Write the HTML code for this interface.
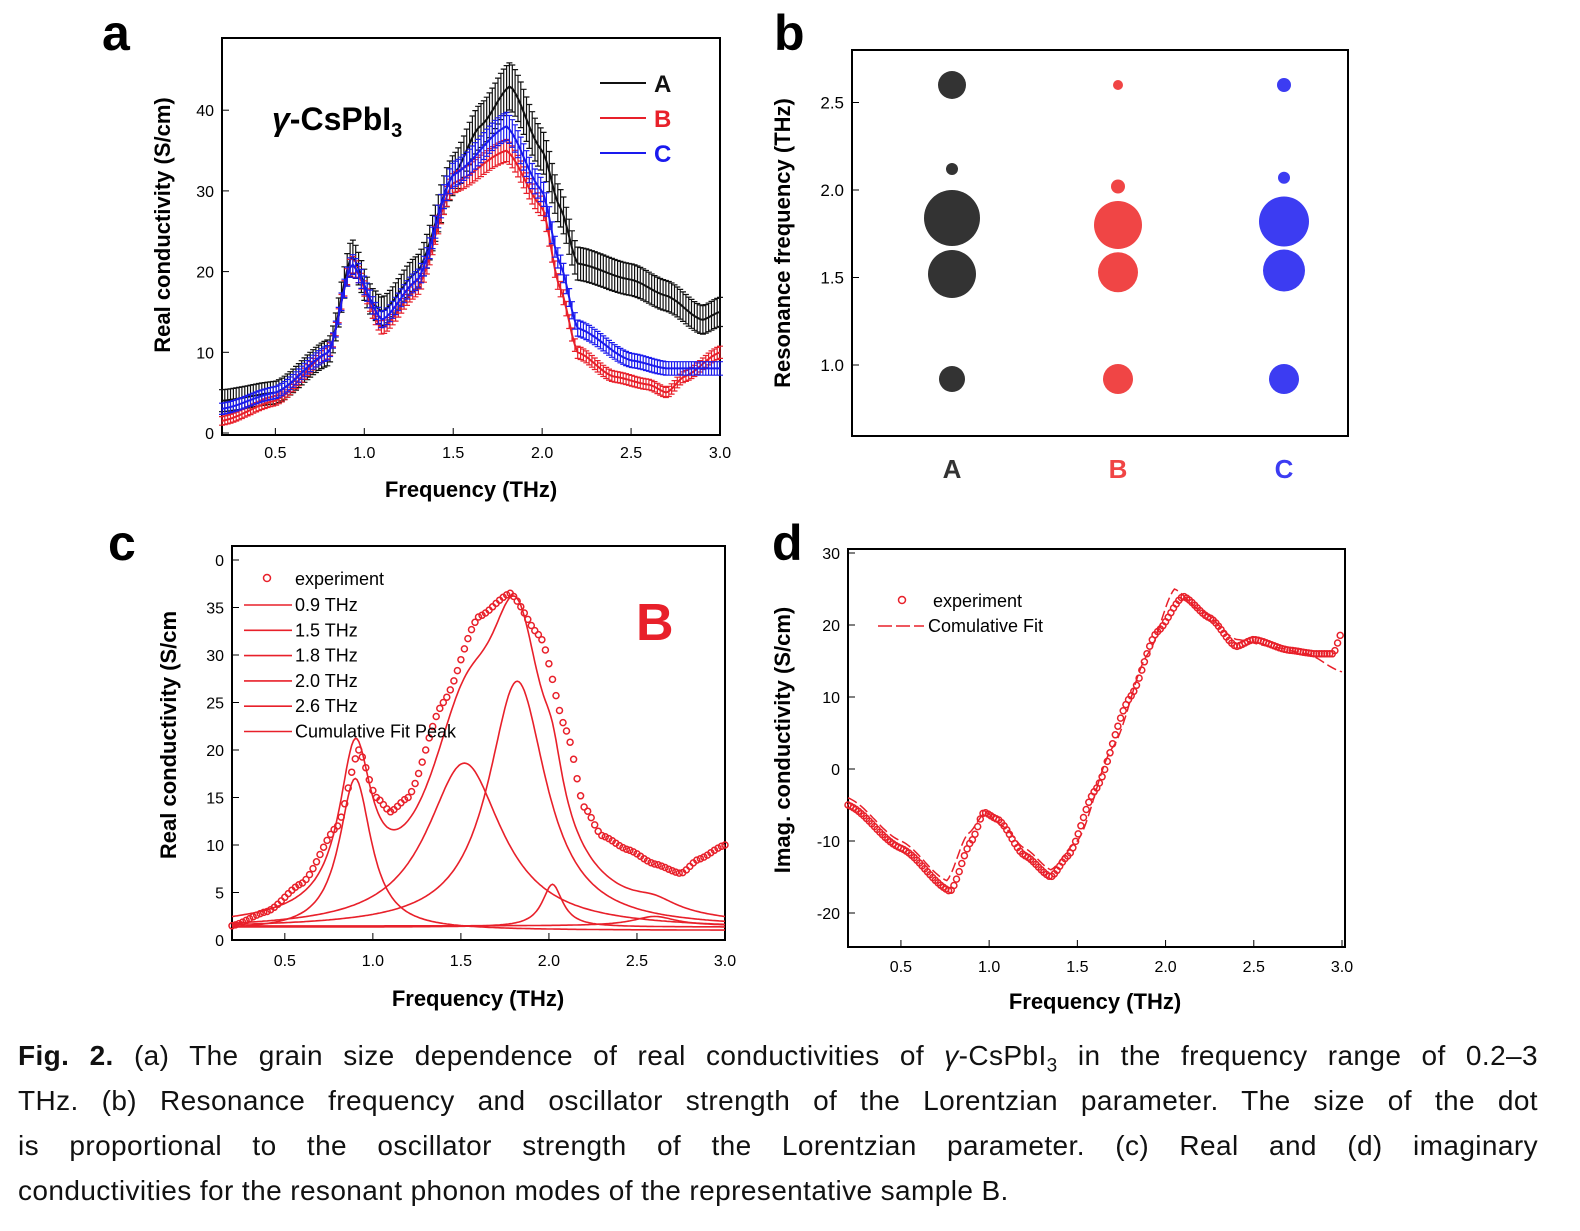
<!DOCTYPE html>
<html><head><meta charset="utf-8">
<style>
body{margin:0;background:#fff;width:1580px;height:1231px;overflow:hidden;font-family:"Liberation Sans",Arial,sans-serif}
svg{position:absolute;left:0;top:0}
#cap{position:absolute;left:18px;top:1033px;width:1520px;font-size:28px;letter-spacing:0.4px;line-height:45px;color:#111}
#cap div{text-align:justify;text-align-last:justify;white-space:nowrap;height:45px}
#cap div.l{text-align-last:left}
</style></head><body>
<svg id="s" width="1580" height="1231" xmlns="http://www.w3.org/2000/svg" font-family="Liberation Sans, Arial, sans-serif"></svg>
<div id="cap">
<div><b>Fig. 2.</b> (a) The grain size dependence of real conductivities of <i>γ</i>-CsPbI<sub style="font-size:19px;line-height:0">3</sub> in the frequency range of 0.2–3</div>
<div>THz. (b) Resonance frequency and oscillator strength of the Lorentzian parameter. The size of the dot</div>
<div>is proportional to the oscillator strength of the Lorentzian parameter. (c) Real and (d) imaginary</div>
<div class="l">conductivities for the resonant phonon modes of the representative sample B.</div>
</div>
<script>
const S=document.getElementById('s');let h='';
const R='#e8202a',K='#111',Bl='#1a1aee';
function interp(pts,x){for(let i=0;i<pts.length-1;i++){if(x<=pts[i+1][0]){const[a,b]=pts[i],[c,d]=pts[i+1];const t=(x-a)/(c-a);const u=(1-Math.cos(Math.PI*t))/2;return b+(d-b)*(0.5*u+0.5*t);}}return pts[pts.length-1][1];}
function axes(x0,x1,y0,y1){h+=`<rect x="${x0}" y="${y0}" width="${x1-x0}" height="${y1-y0}" fill="none" stroke="#000" stroke-width="2"/>`;}
function txt(x,y,t,sz,anc,ex){h+=`<text x="${x}" y="${y}" font-size="${sz}" text-anchor="${anc||'middle'}" ${ex||''}>${t}</text>`;}
// panel a
{const X=f=>222+(f-0.2)/2.8*498,Y=v=>433-v*8.07;
axes(222,720,38,435);
[0.5,1,1.5,2,2.5,3].forEach(f=>{h+=`<line x1="${X(f)}" y1="435" x2="${X(f)}" y2="428" stroke="#000"/>`;txt(X(f),458,f.toFixed(1),16);});
[0,10,20,30,40].forEach(v=>{h+=`<line x1="222" y1="${Y(v)}" x2="229" y2="${Y(v)}" stroke="#000"/>`;txt(214,Y(v)+6,v,16,'end');});
txt(471,497,'Frequency (THz)',22,'middle','font-weight="bold"');
txt(170,225,'Real conductivity (S/cm)',22,'middle','font-weight="bold" transform="rotate(-90 170 225)"');
const A=[[0.2,4],[0.5,5],[0.8,10],[0.93,22],[1.05,16],[1.1,15],[1.3,20],[1.5,32],[1.65,38],[1.82,43],[2.0,35],[2.1,28],[2.2,21],[2.5,19],[2.7,17],[2.9,14],[3.0,15]];
const B=[[0.2,1.5],[0.5,4],[0.8,10],[0.93,21],[1.1,13],[1.3,18],[1.5,31],[1.8,35],[2.0,28],[2.1,18],[2.2,10],[2.4,7],[2.6,6],[2.7,5],[2.8,7],[3.0,10]];
const C=[[0.2,3],[0.5,5],[0.8,10],[0.93,21],[1.1,14],[1.3,19],[1.5,32],[1.8,38],[2.0,30],[2.1,21],[2.2,13],[2.5,9],[2.7,8],[3.0,8]];
[[A,K,1.2,0.04],[B,R,0.5,0.025],[C,Bl,0.6,0.03]].forEach(([p,c,e0,e1])=>{let d='',eb='';for(let f=0.2;f<=3.001;f+=0.016){const v=interp(p,f),e=e0+e1*v;d+=(d?'L':'M')+X(f).toFixed(1)+','+Y(v).toFixed(1);eb+=`M${X(f).toFixed(1)},${Y(v-e).toFixed(1)}V${Y(v+e).toFixed(1)}M${(X(f)-3).toFixed(1)},${Y(v+e).toFixed(1)}h6M${(X(f)-3).toFixed(1)},${Y(v-e).toFixed(1)}h6`;}
h+=`<path d="${eb}" stroke="${c}" stroke-width="1.2" fill="none"/><path d="${d}" stroke="${c}" stroke-width="2" fill="none"/>`;});
txt(272,130,'<tspan font-style="italic">γ</tspan>-CsPbI<tspan font-size="20" dy="7">3</tspan>',32,'start','font-weight="bold"');
[['A',K,83],['B',R,118],['C',Bl,153]].forEach(([t,c,y])=>{h+=`<line x1="600" y1="${y}" x2="646" y2="${y}" stroke="${c}" stroke-width="2"/>`;txt(654,y+9,t,24,'start',`font-weight="bold" fill="${c}"`);});
txt(102,50,'a',50,'start','font-weight="bold"');}
// panel b
{const Y=v=>365-(v-1)*175;axes(852,1348,50,436);
[1,1.5,2,2.5].forEach(v=>{h+=`<line x1="852" y1="${Y(v)}" x2="859" y2="${Y(v)}" stroke="#000"/>`;txt(844,Y(v)+6,v.toFixed(1),17,'end');});
txt(790,243,'Resonance frequency (THz)',22,'middle','font-weight="bold" transform="rotate(-90 790 243)"');
const cols=[[952,'#333','A',[[2.6,14],[2.12,6],[1.84,28],[1.52,24],[0.92,13]]],[1118,'#f04545','B',[[2.6,5],[2.02,7],[1.8,24],[1.53,20],[0.92,15]]],[1284,'#3c3cf2','C',[[2.6,7],[2.07,6],[1.82,25],[1.54,21],[0.92,15]]]];
cols.forEach(([x,c,t,ds])=>{ds.forEach(([v,r])=>h+=`<circle cx="${x}" cy="${Y(v)}" r="${r}" fill="${c}"/>`);txt(x,478,t,26,'middle',`font-weight="bold" fill="${c}"`);});
txt(774,50,'b',50,'start','font-weight="bold"');}
// panel c
{const X=f=>232+(f-0.2)/2.8*493,Y=v=>940-v*9.5;axes(232,725,546,940);
[0.5,1,1.5,2,2.5,3].forEach(f=>{h+=`<line x1="${X(f)}" y1="940" x2="${X(f)}" y2="933" stroke="#000"/>`;txt(X(f),966,f.toFixed(1),16);});
[0,5,10,15,20,25,30,35,40].forEach(v=>{h+=`<line x1="232" y1="${Y(v)}" x2="239" y2="${Y(v)}" stroke="#000"/>`;txt(224,Y(v)+6,v==40?'0':v,16,'end');});
txt(478,1006,'Frequency (THz)',22,'middle','font-weight="bold"');
txt(176,735,'Real conductivity (S/cm',22,'middle','font-weight="bold" transform="rotate(-90 176 735)"');
const L=(f,f0,a,w)=>a*(w*w)/((f-f0)**2+w*w);
const pk=[[0.9,16,0.11],[1.52,17.5,0.26],[1.82,26,0.2],[2.02,4.5,0.07],[2.6,1,0.15]];
pk.forEach(([f0,a,w],i)=>{let d='';for(let f=0.2;f<=3.001;f+=0.01){const v=1+i*0.12+L(f,f0,a,w);d+=(d?'L':'M')+X(f).toFixed(1)+','+Y(v).toFixed(1);}h+=`<path d="${d}" stroke="${R}" stroke-width="1.6" fill="none"/>`;});
let cd='';const cum=f=>1+pk.reduce((s,[f0,a,w])=>s+L(f,f0,a,w),0)*1.02;
for(let f=0.2;f<=3.001;f+=0.01){cd+=(cd?'L':'M')+X(f).toFixed(1)+','+Y(cum(f)).toFixed(1);}h+=`<path d="${cd}" stroke="${R}" stroke-width="1.6" fill="none"/>`;
const ex=[[0.2,1.5],[0.4,3],[0.6,6],[0.8,12],[0.92,20],[1.02,15],[1.1,13.5],[1.2,15],[1.4,25],[1.6,34],[1.78,36.5],[1.95,32],[2.1,22],[2.2,14],[2.3,11],[2.45,9.5],[2.6,8],[2.75,7],[2.85,8.5],[3.0,10]];
for(let f=0.2;f<=3.001;f+=0.02){h+=`<circle cx="${X(f).toFixed(1)}" cy="${Y(interp(ex,f)).toFixed(1)}" r="3" fill="none" stroke="${R}" stroke-width="1.5"/>`;}
h+=`<circle cx="267" cy="578" r="3.5" fill="none" stroke="${R}" stroke-width="1.5"/>`;txt(295,585,'experiment',18,'start');
['0.9 THz','1.5 THz','1.8 THz','2.0 THz','2.6 THz','Cumulative Fit Peak'].forEach((t,i)=>{const y=605+i*25.3;h+=`<line x1="244" y1="${y}" x2="292" y2="${y}" stroke="${R}" stroke-width="1.6"/>`;txt(295,y+6,t,18,'start');});
txt(636,640,'B',52,'start',`font-weight="bold" fill="${R}"`);
txt(108,560,'c',50,'start','font-weight="bold"');}
// panel d
{const X=f=>848+(f-0.2)/2.8*494,Y=v=>769-v*7.2;axes(848,1345,549,947);
[0.5,1,1.5,2,2.5,3].forEach(f=>{h+=`<line x1="${X(f)}" y1="947" x2="${X(f)}" y2="940" stroke="#000"/>`;txt(X(f),972,f.toFixed(1),16);});
[-20,-10,0,10,20,30].forEach(v=>{h+=`<line x1="848" y1="${Y(v)}" x2="855" y2="${Y(v)}" stroke="#000"/>`;txt(840,Y(v)+6,v,16,'end');});
txt(1095,1009,'Frequency (THz)',22,'middle','font-weight="bold"');
txt(790,740,'Imag. conductivity (S/cm)',22,'middle','font-weight="bold" transform="rotate(-90 790 740)"');
const ex=[[0.2,-5],[0.5,-11],[0.78,-17],[0.9,-10],[0.97,-6],[1.05,-7],[1.2,-12],[1.35,-15],[1.45,-12],[1.6,-3],[1.8,10],[1.95,19],[2.1,24],[2.25,21],[2.4,17],[2.5,18],[2.7,16.5],[2.85,16],[2.95,16],[3.0,19]];
const fit=[[0.2,-4],[0.5,-10],[0.76,-15.5],[0.88,-9],[0.98,-6],[1.08,-8],[1.2,-11],[1.35,-14],[1.5,-10],[1.7,3],[1.9,16],[2.05,25],[2.2,22],[2.4,18],[2.6,17],[2.8,16],[3.0,13.5]];
let d='';for(let f=0.2;f<=3.001;f+=0.01){d+=(d?'L':'M')+X(f).toFixed(1)+','+Y(interp(fit,f)).toFixed(1);}h+=`<path d="${d}" stroke="${R}" stroke-width="1.5" fill="none" stroke-dasharray="10 4"/>`;
for(let f=0.2;f<=3.001;f+=0.015){h+=`<circle cx="${X(f).toFixed(1)}" cy="${Y(interp(ex,f)).toFixed(1)}" r="3" fill="none" stroke="${R}" stroke-width="1.5"/>`;}
h+=`<circle cx="902" cy="600" r="3.5" fill="none" stroke="${R}" stroke-width="1.5"/>`;txt(933,607,'experiment',18,'start');
h+=`<line x1="878" y1="626" x2="924" y2="626" stroke="${R}" stroke-width="1.6" stroke-dasharray="14 4"/>`;txt(928,632,'Comulative Fit',18,'start');
txt(772,560,'d',50,'start','font-weight="bold"');}
S.innerHTML=h;
</script>
</body></html>
